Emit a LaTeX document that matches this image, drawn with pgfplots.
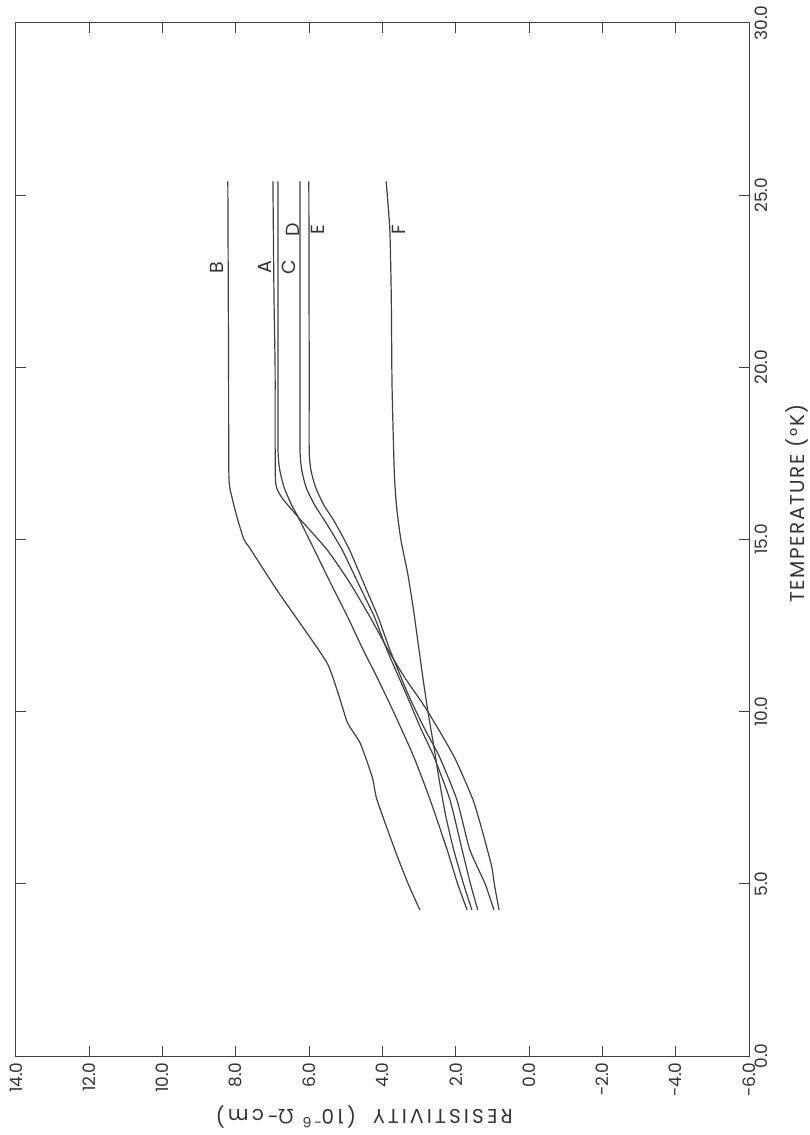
\documentclass[border=0pt]{standalone}
\usepackage{pgfplots}
\pgfplotsset{compat=1.18}
\usepackage{fontspec}
\setmainfont{Poppins}
\newfontfamily\grk{Open Sans}
\begin{document}
\begin{tikzpicture}[rotate=90, transform shape]
\begin{axis}[
  name=ax,
  width=1033pt, height=733pt, scale only axis,
  xmin=0, xmax=30, ymin=-6, ymax=14,
  xtick={0,5,...,30}, xticklabels={0.0,5.0,10.0,15.0,20.0,25.0,30.0},
  ytick={-6,-4,...,14}, yticklabels={-6.0,-4.0,-2.0,0.0,2.0,4.0,6.0,8.0,10.0,12.0,14.0},
  tick align=inside, major tick length=10pt,
  ticklabel style={font=\fontsize{17}{19}\selectfont, black!80},
  yticklabel style={xshift=-3pt},
  xticklabel style={yshift=-2pt},
  xlabel={TEMPERATURE (°K)},
  ylabel={RESISTIVITY \ (10\textsuperscript{-6} {\grk Ω}-cm)},
  xlabel style={font=\fontsize{20}{22}\selectfont\addfontfeature{LetterSpace=8}, black!80,
    at={(axis description cs:0.535,-0.0655)}, anchor=center},
  ylabel style={font=\fontsize{20}{22}\selectfont\addfontfeature{LetterSpace=16}, black!80,
    at={(axis description cs:-0.059,0.525)}, anchor=center},
  axis line style={line width=1pt, black!75},
  every tick/.style={black!75, line width=1pt},
  curve/.style={black!75, line width=1.2pt, smooth, tension=0.35, no marks},
]
\addplot[curve] coordinates {(4.24,0.82) (5.0,0.95) (5.5,1.02) (6.47,1.26) (7.44,1.53) (8.7,2.05) (10.05,2.79) (11.0,3.4) (11.8,3.85) (12.75,4.34) (13.74,4.89) (14.7,5.51) (15.65,6.3) (15.86,6.47) (16.15,6.7) (16.4,6.85) (16.7,6.92) (18,6.93) (20,6.93) (22,6.96) (25.4,6.99)};
\addplot[curve] coordinates {(4.24,2.98) (5,3.3) (5.98,3.66) (7.44,4.15) (8.1,4.28) (9.09,4.61) (9.67,4.95) (10.5,5.2) (11.41,5.51) (12.57,6.25) (13.53,6.88) (14.75,7.62) (15.0,7.78) (15.65,7.97) (16.2,8.1) (16.8,8.19) (20,8.2) (25.4,8.22)};
\addplot[curve] coordinates {(4.24,1.69) (5,1.95) (6,2.24) (7.44,2.70) (8.7,3.15) (10,3.7) (11,4.15) (11.8,4.53) (12.75,4.95) (13.7,5.4) (14.7,5.86) (15.65,6.3) (16,6.48) (16.5,6.68) (17,6.8) (17.6,6.85) (20,6.85) (25.4,6.85)};
\addplot[curve] coordinates {(4.24,1.40) (5,1.6) (6,1.83) (7.44,2.16) (8.7,2.6) (9.5,2.95) (10.5,3.35) (11.8,3.88) (12.75,4.22) (13.7,4.65) (14.7,5.1) (15.5,5.55) (16,5.85) (16.5,6.08) (17,6.2) (17.6,6.25) (20,6.25) (25.4,6.25)};
\addplot[curve] coordinates {(4.24,0.96) (5,1.2) (6,1.62) (7.44,1.97) (8.7,2.45) (9.5,2.85) (10.5,3.3) (11.8,3.80) (12.75,4.12) (13.7,4.5) (14.7,4.9) (15.5,5.3) (16,5.6) (16.5,5.82) (17,5.95) (17.6,6.0) (20,6.0) (25.4,6.01)};
\addplot[curve] coordinates {(4.24,1.56) (5,1.79) (6,2.06) (7,2.28) (8,2.45) (9,2.6) (10,2.76) (11,2.9) (12,3.03) (13,3.16) (14,3.31) (15,3.5) (16,3.62) (17,3.68) (19.5,3.74) (22,3.76) (24,3.8) (25.4,3.9)};
\begin{scope}[every node/.style={font=\fontsize{19}{21}\selectfont, black!80}]
\node at (axis cs:22.9,8.52) {B};
\node at (axis cs:22.9,7.20) {A};
\node at (axis cs:22.9,6.55) {C};
\node at (axis cs:24.0,6.44) {D};
\node at (axis cs:24.0,5.76) {E};
\node at (axis cs:24.0,3.55) {F};
\end{scope}
\end{axis}
\pgfresetboundingbox
\path (ax.south west) ++(-79pt,-61pt) rectangle ++(1135pt,810pt);
\end{tikzpicture}
\end{document}
